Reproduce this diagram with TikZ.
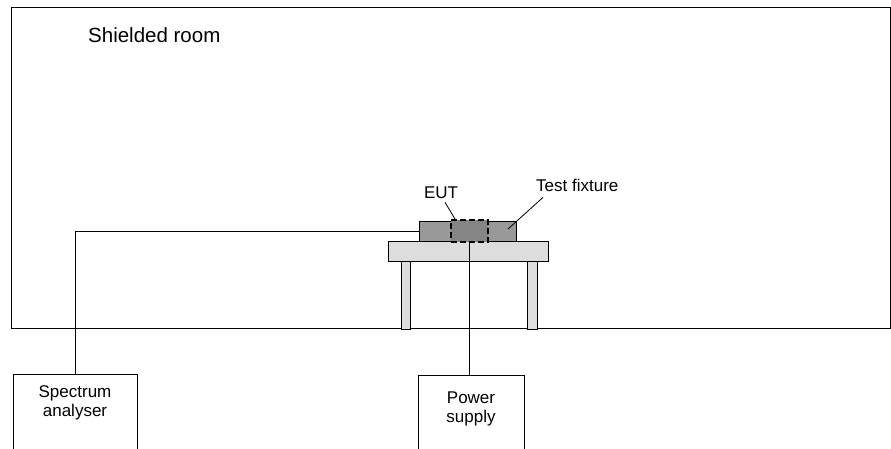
\documentclass[tikz,border=0pt]{standalone}
\usepackage{fontspec}
\setmainfont{Liberation Sans}
\definecolor{tablegray}{HTML}{DDDDDD}
\definecolor{fixgray}{HTML}{999999}
\definecolor{eutgray}{HTML}{858585}
\begin{document}
\begin{tikzpicture}[
    x=1pt,y=-1pt,
    box/.style={draw,line width=1pt,fill=white,align=center,inner xsep=0pt,
        font=\fontsize{17}{19.5}\selectfont,minimum width=#1,anchor=north,text depth=80pt},
    part/.style={draw,line width=1pt,inner sep=0pt},
    lab/.style={font=\fontsize{17}{20}\selectfont,inner sep=0pt},
    wire/.style={line width=1pt},
    lead/.style={line width=0.8pt}
]
\useasboundingbox (0,0) rectangle (891,448);
\clip (0,0) rectangle (891,448);
% shielded room
\draw[wire] (11.5,7.5) rectangle (890.5,328.5);
\node[anchor=base west,inner sep=0pt,font=\fontsize{20.5}{24}\selectfont] (room) at (88,42) {Shielded room};
% table
\node[part,fill=tablegray,minimum width=9,minimum height=68] (legl) at (405.5,295) {};
\node[part,fill=tablegray,minimum width=10,minimum height=68] (legr) at (532,295) {};
\node[part,fill=tablegray,minimum width=160,minimum height=20] (table) at (468,251) {};
% fixture and EUT
\node[part,fill=fixgray,minimum width=97,minimum height=20] (fixture) at (467.5,231) {};
\node[part,fill=eutgray,line width=2pt,dash pattern=on 6pt off 3pt,minimum width=37,minimum height=22] (eut) at (469.5,231) {};
\node[lab,anchor=base] (eutlab) at (441,198) {EUT};
\node[lab,anchor=base west] (fixlab) at (536,191) {Test fixture};
\coordinate (eutpt) at (455,219);
\coordinate (fixpt) at (508,229);
\draw[lead] (eutlab.south) ++(4,4) -- (eutpt);
\draw[lead] (fixlab.south west) ++(7,6) -- (fixpt);
% instruments outside
\node[box=124,inner ysep=11pt] (sa) at (75,374) {Spectrum\\analyser};
\node[box=106,inner ysep=16pt] (psu) at (471,375) {Power\\supply};
% cables
\draw[wire] (fixture.west) -- (fixture.west -| sa.north) -- (sa.north);
\draw[wire] (eut.south) -- (eut.south |- psu.north);
\end{tikzpicture}
\end{document}
